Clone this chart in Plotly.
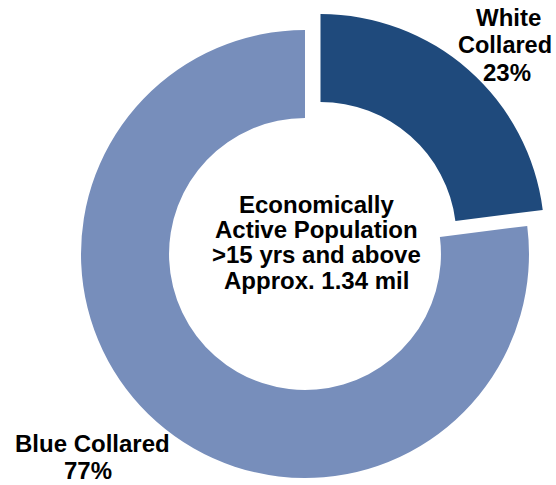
import plotly.graph_objects as go

# ---- data ----
categories = ["White Collared", "Blue Collared"]
shares = [23, 77]
slice_colors = ["#1f4a7c", "#778ebb"]
center_lines = ["Economically", "Active Population", ">15 yrs and above", "Approx. 1.34 mil"]

W, H = 556, 485
FONT = "Arial, 'Liberation Sans', Helvetica, sans-serif"

# geometry in window pixels
cx, cy, R = 305, 254, 224        # ring centre / outer radius
pull_dx, pull_dy = 15.5, -16     # offset of the pulled slice
hole = 0.607


def dom(cxp, cyp, r):
    return dict(x=[(cxp - r) / W, (cxp + r) / W],
                y=[(H - cyp - r) / H, (H - cyp + r) / H])


transparent = "rgba(0,0,0,0)"
fig = go.Figure()
# blue collared ring (unpulled)
fig.add_trace(go.Pie(
    labels=categories, values=shares, sort=False, direction="clockwise", rotation=0,
    hole=hole, domain=dom(cx, cy, R), textinfo="none", hoverinfo="skip",
    marker=dict(colors=[transparent, slice_colors[1]], line=dict(width=0)),
    showlegend=False,
))
# white collared slice, pulled out
fig.add_trace(go.Pie(
    labels=categories, values=shares, sort=False, direction="clockwise", rotation=0,
    hole=hole, domain=dom(cx + pull_dx, cy + pull_dy, R), textinfo="none", hoverinfo="skip",
    marker=dict(colors=[slice_colors[0], transparent], line=dict(width=0)),
    showlegend=False,
))

annos = []
def add_text(txt, x, y, size=24):
    annos.append(dict(text="<b>%s</b>" % txt, x=x / W, y=1 - y / H,
                      xref="paper", yref="paper",
                      xanchor="center", yanchor="middle", showarrow=False,
                      font=dict(family=FONT, size=size, color="black")))

for i, line in enumerate(center_lines):
    add_text(line, 316, 204 + i * 25.4)

white_words = categories[0].split(" ")
add_text(white_words[0], 508, 18)
add_text(white_words[1], 505, 45, size=23.5)
add_text("%d%%" % shares[0], 507, 72)

add_text(categories[1], 92, 443)
add_text("%d%%" % shares[1], 88, 470)

fig.update_layout(width=W, height=H, margin=dict(l=0, r=0, t=0, b=0),
                  paper_bgcolor="white", plot_bgcolor="white", annotations=annos)
fig.write_html("out.html", config={"displayModeBar": False},
               post_script="document.body.style.margin='0px';document.body.style.overflow='hidden';")
